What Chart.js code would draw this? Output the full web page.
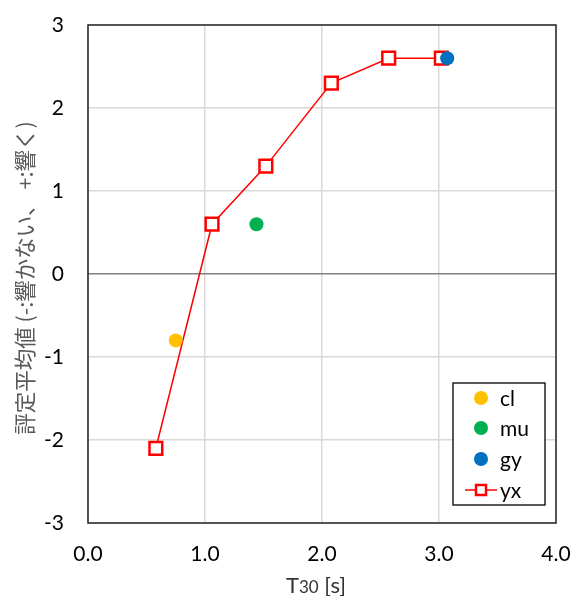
<!DOCTYPE html>
<html>
<head>
<meta charset="utf-8">
<script src="https://cdn.jsdelivr.net/npm/chart.js@4.4.1/dist/chart.umd.min.js"></script>
<style>
  html, body { margin: 0; padding: 0; background: #fff; }
  #wrap { width: 571px; height: 596px; position: relative; }
</style>
</head>
<body>
<div id="wrap"><canvas id="c" width="571" height="596"></canvas></div>
<script>
// Reverberation time T30 [s] vs. mean rating
const seriesNames = ['cl', 'mu', 'gy', 'yx'];
const clX = [0.75];
const clY = [-0.8];
const muX = [1.44];
const muY = [0.6];
const gyX = [3.07];
const gyY = [2.6];
const yxX = [0.58, 1.06, 1.52, 2.08, 2.57, 3.02];
const yxY = [-2.1, 0.6, 1.3, 2.3, 2.6, 2.6];
const xTickLabels = ['0.0', '1.0', '2.0', '3.0', '4.0'];
const yTickLabels = ['-3', '-2', '-1', '0', '1', '2', '3'];
const yTitle = '評定平均値 (-:響かない、 +:響く)';
const xTitleMain = 'T';
const xTitleSub = '30';
const xTitleTail = ' [s]';

const colors = { cl: '#ffc000', mu: '#00b050', gy: '#0070c0', yx: '#ff0000' };
const tickFont = { family: 'Lato, "Open Sans", sans-serif', size: 21 };

function pts(xs, ys) { return xs.map((x, i) => ({ x: x, y: ys[i] })); }

// Frame around the plot area, both axis titles and the boxed legend
const decorations = {
  id: 'decorations',
  afterDraw(chart) {
    const ctx = chart.ctx;
    const a = chart.chartArea;
    ctx.save();
    ctx.strokeStyle = '#262626';
    ctx.lineWidth = 1.5;
    ctx.strokeRect(a.left, a.top, a.right - a.left, a.bottom - a.top);

    // y title, rotated
    ctx.fillStyle = '#595959';
    ctx.font = '21.5px "Noto Sans CJK JP", sans-serif';
    ctx.textAlign = 'center';
    ctx.textBaseline = 'middle';
    ctx.translate(25, 278);
    ctx.rotate(-Math.PI / 2);
    ctx.fillText(yTitle, 0, 0);
    ctx.restore();

    // x title with a smaller "30"
    ctx.save();
    ctx.fillStyle = '#333333';
    ctx.textBaseline = 'alphabetic';
    ctx.textAlign = 'left';
    const fMain = '22px Lato, "Open Sans", sans-serif';
    const fSub = '17px Lato, "Open Sans", sans-serif';
    ctx.font = fMain;
    const w1 = ctx.measureText(xTitleMain).width;
    const w3 = ctx.measureText(xTitleTail).width;
    ctx.font = fSub;
    const w2 = ctx.measureText(xTitleSub).width;
    let x0 = 316 - (w1 + w2 + w3) / 2;
    const yb = 593;
    ctx.font = fMain; ctx.fillText(xTitleMain, x0, yb); x0 += w1;
    ctx.font = fSub; ctx.fillText(xTitleSub, x0, yb); x0 += w2;
    ctx.font = fMain; ctx.fillText(xTitleTail, x0, yb);
    ctx.restore();

    // legend box
    ctx.save();
    const bx = 453, by = 383, bw = 92, bh = 122;
    ctx.fillStyle = '#ffffff';
    ctx.fillRect(bx, by, bw, bh);
    ctx.strokeStyle = '#000000';
    ctx.lineWidth = 1.3;
    ctx.strokeRect(bx, by, bw, bh);
    const rowY = [398, 428, 459, 490];
    const mx = 481;
    ctx.font = tickFont.size + 'px ' + tickFont.family;
    ctx.textBaseline = 'middle';
    ctx.textAlign = 'left';
    seriesNames.forEach((name, i) => {
      const y = rowY[i];
      if (name === 'yx') {
        ctx.strokeStyle = colors.yx;
        ctx.lineWidth = 1.5;
        ctx.beginPath(); ctx.moveTo(465, y); ctx.lineTo(497, y); ctx.stroke();
        ctx.fillStyle = '#fff';
        ctx.fillRect(mx - 5, y - 5, 10, 10);
        ctx.lineWidth = 2.5;
        ctx.strokeRect(mx - 5, y - 5, 10, 10);
      } else {
        ctx.fillStyle = colors[name];
        ctx.beginPath(); ctx.arc(mx, y, 7, 0, Math.PI * 2); ctx.fill();
      }
      ctx.fillStyle = '#000';
      ctx.fillText(name, 500, y + 1);
    });
    ctx.restore();
  }
};

new Chart(document.getElementById('c'), {
  type: 'scatter',
  data: {
    datasets: [
      { label: 'cl', data: pts(clX, clY), backgroundColor: colors.cl, borderWidth: 0, pointRadius: 7, pointHoverRadius: 7, order: 1 },
      { label: 'mu', data: pts(muX, muY), backgroundColor: colors.mu, borderWidth: 0, pointRadius: 7, pointHoverRadius: 7, order: 1 },
      { label: 'gy', data: pts(gyX, gyY), backgroundColor: colors.gy, borderWidth: 0, pointRadius: 7, pointHoverRadius: 7, order: 0 },
      { label: 'yx', data: pts(yxX, yxY), showLine: true, borderColor: colors.yx, borderWidth: 1.5,
        pointStyle: 'rect', pointRadius: 9, pointHoverRadius: 9, pointBorderWidth: 2.5,
        pointBackgroundColor: '#ffffff', pointBorderColor: colors.yx, order: 2 }
    ]
  },
  options: {
    responsive: false,
    animation: false,
    events: [],
    layout: { padding: { top: 25, right: 15, left: 0, bottom: 0 } },
    plugins: { legend: { display: false }, tooltip: { enabled: false } },
    scales: {
      x: {
        type: 'linear', min: 0, max: 4,
        afterFit(s) { s.height = 73; s.paddingLeft = 0; s.paddingRight = 0; },
        afterBuildTicks(s) { s.ticks = xTickLabels.map(t => ({ value: parseFloat(t) })); },
        ticks: { padding: 19, color: '#000', font: tickFont, maxRotation: 0,
          callback: (v, i) => xTickLabels[i] },
        grid: { color: '#d9d9d9', lineWidth: 1.5, drawTicks: false },
        border: { display: false }
      },
      y: {
        type: 'linear', min: -3, max: 3,
        afterFit(s) { s.width = 88; s.paddingTop = 0; s.paddingBottom = 0; },
        afterBuildTicks(s) { s.ticks = yTickLabels.map(t => ({ value: parseFloat(t) })); },
        ticks: { padding: 24, color: '#000', font: tickFont,
          callback: (v, i) => yTickLabels[i] },
        grid: { color: c => (c.tick && c.tick.value === 0 ? '#808080' : '#d9d9d9'), lineWidth: 1.5, drawTicks: false },
        border: { display: false }
      }
    }
  },
  plugins: [decorations]
});
</script>
</body>
</html>
